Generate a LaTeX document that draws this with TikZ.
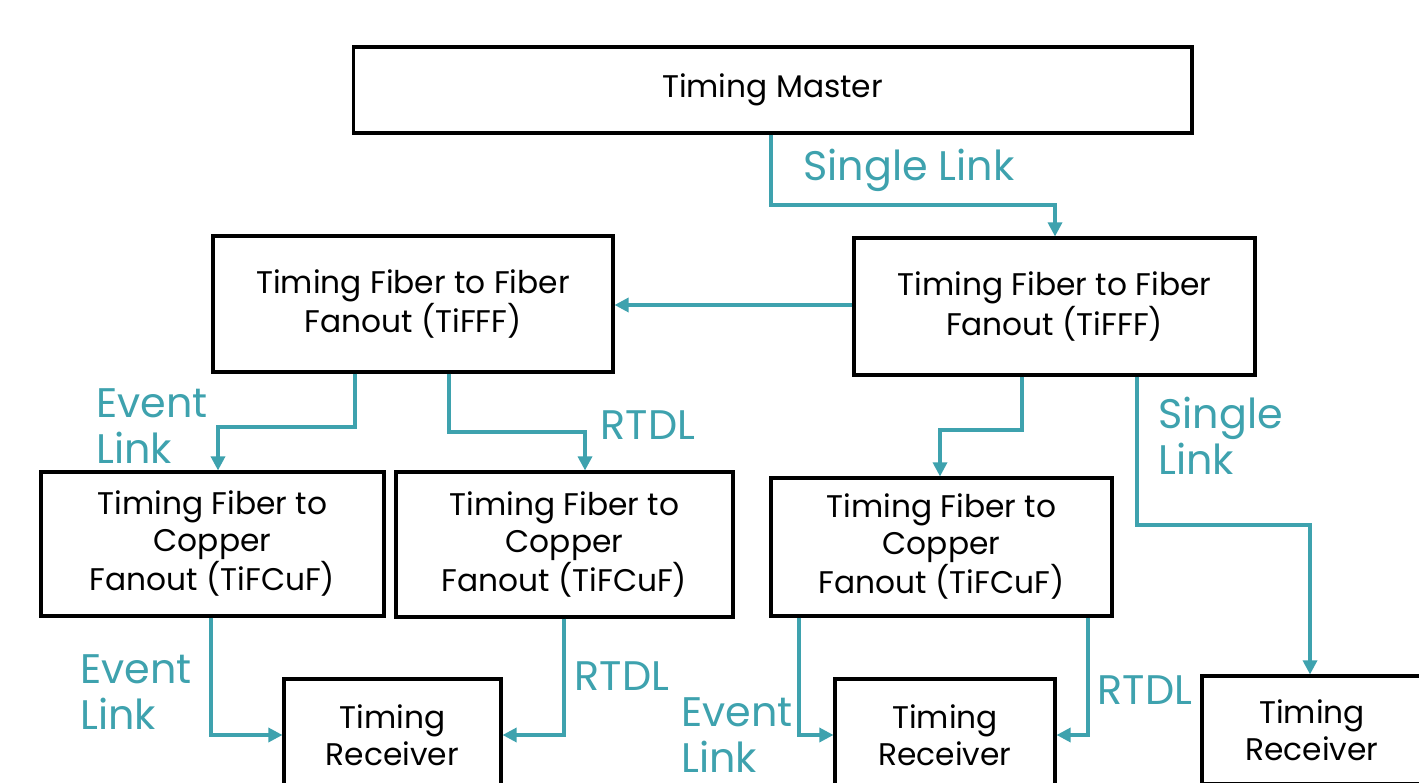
\documentclass[tikz,border=0pt]{standalone}
\usepackage{fontspec}
\setmainfont{Poppins}
\usetikzlibrary{arrows.meta}
\definecolor{teal1}{RGB}{62,162,174}
\tikzset{
  box/.style={draw=black, line width=1.8pt, fill=white, align=center, inner sep=0pt,
    font=\fontsize{17.8}{21}\selectfont},
  link/.style={draw=teal1, line width=1.8pt, -{Triangle[length=8pt,width=8pt]}},
  lab/.style={text=teal1, inner sep=0pt, font=\fontsize{23.5}{26.5}\selectfont}
}
\begin{document}
\begin{tikzpicture}[x=0.02cm, y=-0.02cm]
\useasboundingbox (0,0) rectangle (1419,783);
\clip (0,0) rectangle (1419,783);
\fill[white] (0,0) rectangle (1419,783);
% boxes
\node[box, minimum width=16.78cm, minimum height=1.72cm] (master) at (772.5,90) {Timing Master};
\node[box, minimum width=8cm, minimum height=2.72cm] (tiL) at (413,304) {Timing Fiber to Fiber\\Fanout (TiFFF)};
\node[box, minimum width=8.02cm, minimum height=2.74cm] (tiR) at (1054.5,306.5) {Timing Fiber to Fiber\\Fanout (TiFFF)};
\node[box, minimum width=6.86cm, minimum height=2.88cm] (cu1) at (212.5,544) {Timing Fiber to\\Copper\\Fanout (TiFCuF)};
\node[box, minimum width=6.74cm, minimum height=2.9cm] (cu2) at (564.5,544.5) {Timing Fiber to\\Copper\\Fanout (TiFCuF)};
\node[box, minimum width=6.82cm, minimum height=2.76cm] (cu3) at (941.5,547) {Timing Fiber to\\Copper\\Fanout (TiFCuF)};
\node[box, minimum width=4.34cm, minimum height=2.24cm] (rx1) at (392.5,735) {Timing\\Receiver};
\node[box, minimum width=4.4cm, minimum height=2.24cm] (rx2) at (945,735) {Timing\\Receiver};
\node[box, minimum width=4.4cm, minimum height=2.16cm] (rx3) at (1312,730) {Timing\\Receiver};
% connectors
\draw[link] (master.south -| 771,0) -- (771,205) -| (tiR.north -| 1055,0);
\draw[link] (tiR.west |- 0,305) -- (tiL.east |- 0,305);
\draw[link] (tiL.south -| 355,0) -- (355,427) -| (cu1.north -| 218,0);
\draw[link] (tiL.south -| 449,0) -- (449,432) -| (cu2.north -| 585,0);
\draw[link] (tiR.south -| 1022,0) -- (1022,430) -| (cu3.north -| 940,0);
\draw[link] (tiR.south -| 1137,0) -- (1137,525) -| (rx3.north -| 1310,0);
\draw[link] (cu1.south -| 211,0) |- (rx1.west |- 0,735);
\draw[link] (cu2.south -| 564,0) |- (rx1.east |- 0,735);
\draw[link] (cu3.south -| 799,0) |- (rx2.west |- 0,735);
\draw[link] (cu3.south -| 1088,0) |- (rx2.east |- 0,735);
% labels
\node[lab] (l1) at (909,170) {Single Link};
\node[lab, anchor=west, align=left] (l2) at (96,426) {Event\\Link};
\node[lab] (l3) at (648,425) {RTDL};
\node[lab, anchor=west, align=left] (l4) at (1158,436) {Single\\Link};
\node[lab, anchor=west, align=left] (l5) at (80,692) {Event\\Link};
\node[lab] (l6) at (622,676) {RTDL};
\node[lab, anchor=west, align=left] (l7) at (681,735) {Event\\Link};
\node[lab] (l8) at (1145,690) {RTDL};
\end{tikzpicture}
\end{document}
